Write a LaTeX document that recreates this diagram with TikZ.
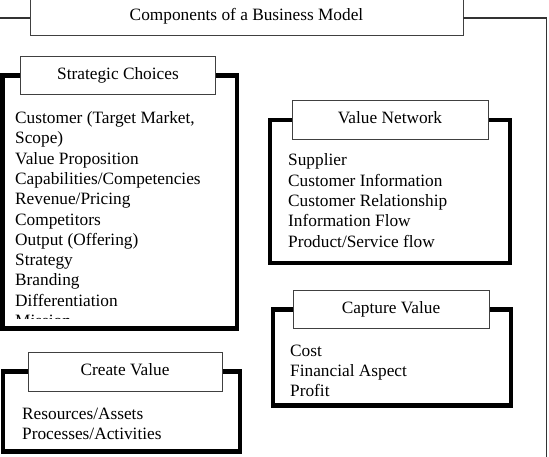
\documentclass[tikz,border=0pt]{standalone}
\usepackage{fontspec}
\setmainfont{Liberation Serif}
\begin{document}
\begin{tikzpicture}[x=1pt,y=-1pt,
  txt/.style={font=\fontsize{17.3}{20.3}\selectfont},
  frame/.style={draw=black, line width=4.5pt, fill=white, outer sep=0pt, inner sep=0pt, anchor=north west},
  header/.style={txt, draw=black!75, line width=1pt, fill=white, inner sep=0pt, outer sep=0pt,
    text height=12pt, text depth=4pt, minimum height=38pt},
  body/.style={txt, align=left, inner sep=0pt, anchor=base west},
  outer/.style={draw=black!80, line width=1.5pt}]
\useasboundingbox (0,0) rectangle (549,457);

% outer frame line and title
\coordinate (oL) at (-5,18);
\coordinate (oR) at (546.5,18);
\coordinate (oB) at (546.5,470);
\node[header, text depth=1pt, minimum width=433pt, minimum height=40pt] (title) at (246.5,15.5) {Components of a Business Model};
\draw[outer] (oL) -- (title.west |- oL);
\draw[outer] (title.east |- oR) -- (oR) -- (oB);

% Strategic Choices (anchor = baseline of the last line)
\node[frame, minimum width=234.5pt, minimum height=253pt] (scf) at (2.5,75.5) {};
\begin{scope}
\clip (5,98) rectangle (234,318.5);
\node[body] (scb) at (15,326.5) {Customer (Target Market,\\Scope)\\Value Proposition\\Capabilities/Competencies\\Revenue/Pricing\\Competitors\\Output (Offering)\\Strategy\\Branding\\Differentiation\\Mission};
\end{scope}
\node[header, minimum width=195pt] (sch) at (118,76) {Strategic Choices};

% Value Network
\node[frame, minimum width=240pt, minimum height=143pt] (vnf) at (270,120) {};
\node[header, minimum width=196pt, minimum height=39pt] (vnh) at (390,120) {Value Network};
\node[body] (vnb) at (288,247.2) {Supplier\\Customer Information\\Customer Relationship\\Information Flow\\Product/Service flow};

% Capture Value
\node[frame, minimum width=238pt, minimum height=96pt] (cvf) at (273,309.5) {};
\node[header, minimum width=196pt] (cvh) at (391,309) {Capture Value};
\node[body] (cvb) at (290,396.6) {Cost\\Financial Aspect\\Profit};

% Create Value
\node[frame, minimum width=237pt, minimum height=80pt] (crf) at (3,371.5) {};
\node[header, minimum width=194pt, minimum height=39pt] (crh) at (125,371.5) {Create Value};
\node[body] (crb) at (22,439.5) {Resources/Assets\\Processes/Activities};
\end{tikzpicture}
\end{document}
